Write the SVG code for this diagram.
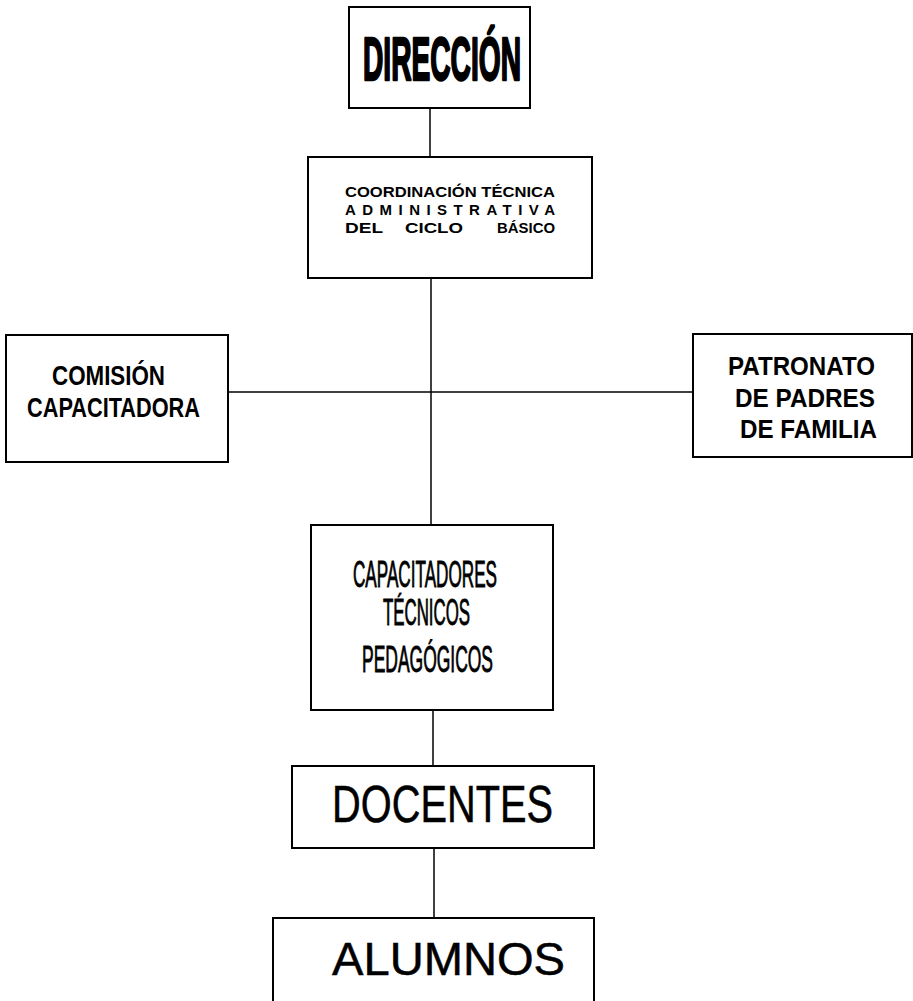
<svg xmlns="http://www.w3.org/2000/svg" width="913" height="1001" viewBox="0 0 913 1001">
<style>
.box{fill:#fff;stroke:#000;stroke-width:2}
.con{fill:none;stroke:#000;stroke-width:1.5}
text{font-family:"Liberation Sans",Arial,sans-serif;fill:#000}
.b{font-weight:bold}
.heavy{font-weight:bold;stroke:#000;stroke-width:2.5;stroke-linejoin:round}
.med{stroke:#000;stroke-width:0.9}
.lt{stroke:#000;stroke-width:0.5}
.co{font-weight:bold;font-size:15px}
</style>
<rect width="913" height="1001" fill="#fff"/>
<g id="connectors">
<line class="con" x1="430" y1="108" x2="430" y2="157"/>
<line class="con" x1="431" y1="278" x2="431" y2="525"/>
<line class="con" x1="228" y1="392" x2="693" y2="392"/>
<line class="con" x1="433" y1="710" x2="433" y2="766"/>
<line class="con" x1="434" y1="848" x2="434" y2="918"/>
</g>
<g id="direccion">
<rect class="box" x="349" y="7" width="181" height="101"/>
<text class="heavy" x="363" y="80" font-size="62" textLength="158" lengthAdjust="spacingAndGlyphs">DIRECCIÓN</text>
</g>
<g id="coordinacion">
<rect class="box" x="308" y="157" width="284" height="121"/>
<text class="co" x="345" y="197" textLength="210" lengthAdjust="spacingAndGlyphs">COORDINACIÓN TÉCNICA</text>
<text class="co" x="345" y="215" textLength="210" lengthAdjust="spacing">ADMINISTRATIVA</text>
<text class="co" x="345" y="233" textLength="38" lengthAdjust="spacingAndGlyphs">DEL</text>
<text class="co" x="405" y="233" textLength="58" lengthAdjust="spacingAndGlyphs">CICLO</text>
<text class="co" x="497" y="233" textLength="58" lengthAdjust="spacingAndGlyphs">BÁSICO</text>
</g>
<g id="comision">
<rect class="box" x="6" y="335" width="222" height="127"/>
<text class="b" x="52" y="385" font-size="27" textLength="113" lengthAdjust="spacingAndGlyphs">COMISIÓN</text>
<text class="b" x="27" y="417" font-size="27" textLength="173" lengthAdjust="spacingAndGlyphs">CAPACITADORA</text>
</g>
<g id="patronato">
<rect class="box" x="693" y="334" width="219" height="123"/>
<text class="b" x="728" y="375" font-size="26" textLength="147" lengthAdjust="spacingAndGlyphs">PATRONATO</text>
<text class="b" x="735" y="407" font-size="26" textLength="140" lengthAdjust="spacingAndGlyphs">DE PADRES</text>
<text class="b" x="740" y="438" font-size="26" textLength="137" lengthAdjust="spacingAndGlyphs">DE FAMILIA</text>
</g>
<g id="capacitadores">
<rect class="box" x="311" y="525" width="242" height="185"/>
<text class="med" x="353" y="587" font-size="36" textLength="144" lengthAdjust="spacingAndGlyphs">CAPACITADORES</text>
<text class="med" x="383" y="625" font-size="36" textLength="87" lengthAdjust="spacingAndGlyphs">TÉCNICOS</text>
<text class="med" x="362" y="672" font-size="36" textLength="131" lengthAdjust="spacingAndGlyphs">PEDAGÓGICOS</text>
</g>
<g id="docentes">
<rect class="box" x="292" y="766" width="302" height="82"/>
<text class="lt" x="332" y="822" font-size="52" textLength="221" lengthAdjust="spacingAndGlyphs">DOCENTES</text>
</g>
<g id="alumnos">
<rect class="box" x="273" y="918" width="321" height="95"/>
<text class="lt" x="332" y="975" font-size="46" textLength="233" lengthAdjust="spacingAndGlyphs">ALUMNOS</text>
</g>
</svg>
